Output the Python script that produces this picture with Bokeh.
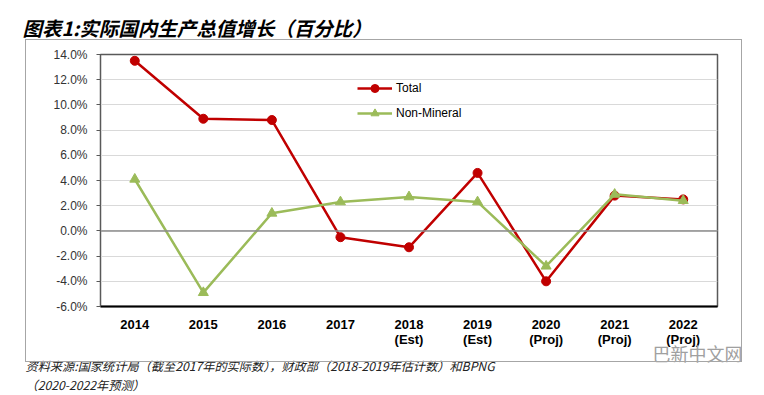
from bokeh.plotting import figure
from bokeh.models import Legend, LegendItem, Range1d, FixedTicker, Span, Title, InlineStyleSheet
from bokeh.embed import file_html
from bokeh.resources import INLINE

years = ["2014", "2015", "2016", "2017", "2018\n(Est)", "2019\n(Est)",
         "2020\n(Proj)", "2021\n(Proj)", "2022\n(Proj)"]
total = [13.5, 8.9, 8.8, -0.5, -1.3, 4.6, -4.0, 2.8, 2.5]
non_mineral = [4.1, -4.9, 1.4, 2.3, 2.7, 2.3, -2.8, 2.9, 2.4]
y_ticks = [-6, -4, -2, 0, 2, 4, 6, 8, 10, 12, 14]

W, H = 764, 395
FL, FT, FW, FH = 100, 52, 617, 254  # frame in page coords

p = figure(x_range=years, y_range=Range1d(-6, 14), width=W, height=H,
           output_backend="svg", toolbar_location=None,
           min_border_left=FL, min_border_top=FT,
           min_border_right=W - FL - FW, min_border_bottom=H - FT - FH)
p.background_fill_color = "white"
p.border_fill_color = "white"
p.outline_line_color = "#595959"
p.outline_line_width = 1.5

p.stylesheets = [InlineStyleSheet(css="""
:host { position: relative; }
:host::after { content: ''; position: absolute; left: 25px; top: 39px;
  width: 717px; height: 323px; border: 1.5px solid #a6a6a6;
  pointer-events: none; box-sizing: border-box; }
""")]

p.xgrid.grid_line_color = None
p.ygrid.grid_line_color = "#d9d9d9"
p.ygrid.grid_line_width = 1
p.yaxis.ticker = FixedTicker(ticks=y_ticks)
p.yaxis.major_label_overrides = {t: f"{t:.1f}%" for t in y_ticks}
p.yaxis.major_label_text_font = "Liberation Sans"
p.yaxis.major_label_text_font_size = "12px"
p.yaxis.major_label_text_color = "#333333"
p.yaxis.axis_line_color = "#595959"
p.yaxis.major_tick_line_color = "#595959"
p.yaxis.major_tick_in = 0
p.yaxis.major_tick_out = 4
p.yaxis.minor_tick_line_color = None
p.yaxis.major_label_standoff = 9

p.xaxis.major_label_text_font = "Liberation Sans"
p.xaxis.major_label_text_font_style = "bold"
p.xaxis.major_label_text_font_size = "13px"
p.xaxis.major_label_text_color = "#000000"
p.xaxis.major_label_text_line_height = 1.0
p.xaxis.axis_line_color = "#000000"
p.xaxis.axis_line_width = 2
p.xaxis.major_tick_line_color = None
p.xaxis.major_tick_out = 0
p.xaxis.major_label_standoff = 10

zero = Span(location=0, dimension="width", line_color="#8c8c8c", line_width=1.5)
p.add_layout(zero)

red = "#C00000"
green = "#9BBB59"
l1 = p.line(years, total, line_color=red, line_width=2.5)
m1 = p.scatter(years, total, marker="circle", size=9, fill_color=red, line_color=red)
l2 = p.line(years, non_mineral, line_color=green, line_width=2.5)
m2 = p.scatter(years, non_mineral, marker="triangle", size=10, fill_color=green, line_color=green)

legend = Legend(items=[LegendItem(label="Total", renderers=[l1, m1]),
                       LegendItem(label="Non-Mineral", renderers=[l2, m2])],
                location=(257, 183), background_fill_alpha=0, border_line_color=None,
                label_text_font="Liberation Sans", label_text_font_size="12px",
                label_text_color="#000000", glyph_width=35, glyph_height=20,
                spacing=5, padding=0, margin=0, label_standoff=4)
p.add_layout(legend, "center")

p.add_layout(Title(text="图表1:实际国内生产总值增长（百分比）", align="left", offset=-78,
                   vertical_align="middle",
                   text_font="Noto Sans CJK SC", text_font_style="bold italic",
                   text_font_size="19.5px", text_color="#000000", standoff=23), "above")

p.add_layout(Title(text="巴新中文网", align="left", offset=552,
                   text_font="Noto Sans CJK SC", text_font_style="normal",
                   text_font_size="18px", text_color="#a0a0a0", standoff=-23), "below")
p.add_layout(Title(text="资料来源:国家统计局（截至2017年的实际数），财政部（2018-2019年估计数）和BPNG",
                   align="left", offset=-75,
                   text_font="Noto Sans CJK SC", text_font_style="italic",
                   text_font_size="12.2px", text_color="#222222", standoff=0), "below")
p.add_layout(Title(text="（2020-2022年预测）", align="left", offset=-75,
                   text_font="Noto Sans CJK SC", text_font_style="italic",
                   text_font_size="12.2px", text_color="#222222", standoff=-2), "below")

open("out.html", "w").write(file_html(p, INLINE))
